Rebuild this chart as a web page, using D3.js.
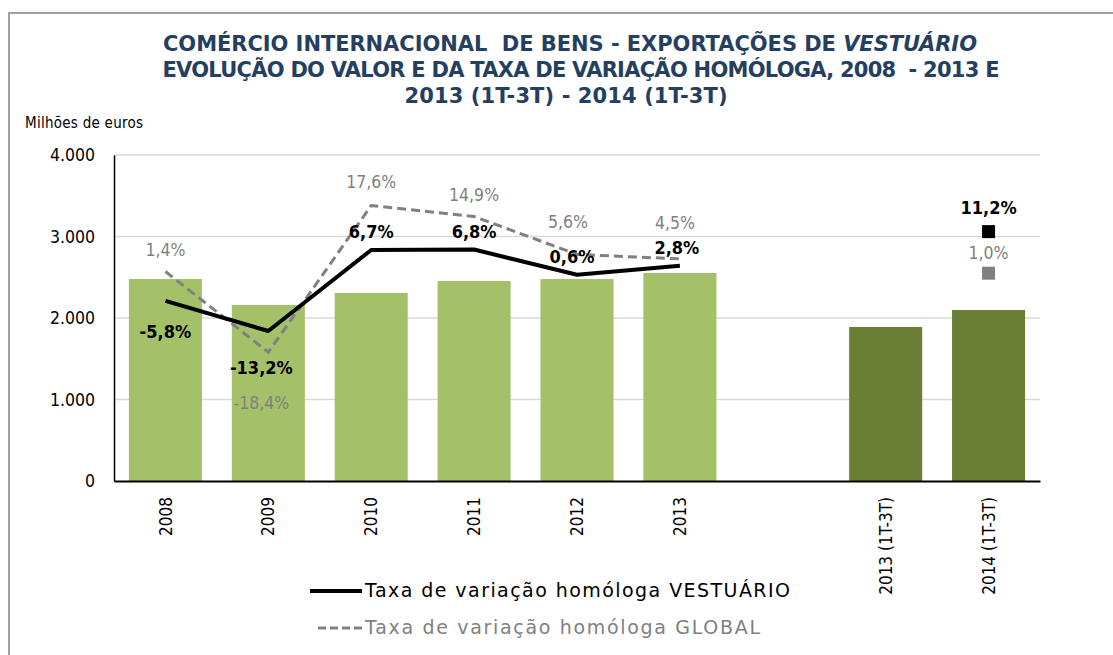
<!DOCTYPE html>
<html lang="pt">
<head>
<meta charset="utf-8">
<script src="https://cdn.jsdelivr.net/npm/d3@7"></script>
<title>Exportações de vestuário</title>
<style>
  body { margin: 0; background: #fff; }
  svg { display: block; font-family: "DejaVu Sans Condensed", "DejaVu Sans", sans-serif; }
  text { white-space: pre; }
</style>
</head>
<body>
<script>
// dados
var categories = ["2008", "2009", "2010", "2011", "2012", "2013", "", "2013 (1T-3T)", "2014 (1T-3T)"];
var values = [2478, 2160, 2307, 2454, 2478, 2552, null, 1890, 2098];
var years = ["2008", "2009", "2010", "2011", "2012", "2013"];
var rateVestuario = [-5.8, -13.2, 6.7, 6.8, 0.6, 2.8];
var rateGlobal = [1.4, -18.4, 17.6, 14.9, 5.6, 4.5];
var quarterCat = "2014 (1T-3T)";
var quarterVestuario = 11.2;
var quarterGlobal = 1.0;
var yTicks = [0, 1000, 2000, 3000, 4000];

var w = 1113, h = 655;
var margin = { top: 155, left: 114, right: 73, bottom: 174 };

var svg = d3.select("body").append("svg")
  .attr("width", w)
  .attr("height", h);

// frame
svg.append("path")
  .attr("d", "M9," + h + "V13H" + w)
  .attr("fill", "none")
  .attr("stroke", "#a0a0a0")
  .attr("stroke-width", 2);

// title
var title = svg.append("g")
  .attr("fill", "#243f60")
  .attr("font-weight", "bold")
  .attr("font-size", 21)
  .style("font-family", "'DejaVu Sans', sans-serif")
  .attr("text-anchor", "middle");
var t1 = title.append("text").attr("x", 570).attr("y", 51)
  .attr("textLength", 814).attr("lengthAdjust", "spacing");
t1.append("tspan").text("COMÉRCIO INTERNACIONAL  DE BENS - EXPORTAÇÕES DE ");
t1.append("tspan").attr("font-style", "italic").text("VESTUÁRIO");
title.append("text").attr("x", 581).attr("y", 77)
  .attr("textLength", 837).attr("lengthAdjust", "spacing")
  .text("EVOLUÇÃO DO VALOR E DA TAXA DE VARIAÇÃO HOMÓLOGA, 2008  - 2013 E");
title.append("text").attr("x", 566).attr("y", 103)
  .attr("textLength", 323).attr("lengthAdjust", "spacing")
  .text("2013 (1T-3T) - 2014 (1T-3T)");

svg.append("text")
  .attr("x", 25).attr("y", 128)
  .attr("font-size", 15)
  .attr("textLength", 118).attr("lengthAdjust", "spacing")
  .text("Milhões de euros");

// scales
var x = d3.scaleBand()
  .domain(categories)
  .range([margin.left, w - margin.right])
  .paddingInner(0.29)
  .paddingOuter(0.145);

var y = d3.scaleLinear()
  .domain([0, 4000])
  .range([h - margin.bottom, margin.top]);

// secondary (hidden) axis for the rates
var y2 = d3.scaleLinear()
  .domain([-50, 30])
  .range([h - margin.bottom, margin.top]);

// gridlines
svg.append("g")
  .selectAll("line")
  .data(yTicks.slice(1))
  .enter().append("line")
  .attr("x1", margin.left).attr("x2", w - margin.right)
  .attr("y1", function(d) { return y(d); })
  .attr("y2", function(d) { return y(d); })
  .attr("stroke", "#d9d9d9")
  .attr("stroke-width", 1.5);

// bars
svg.append("g")
  .selectAll("rect")
  .data(categories.map(function(c, i) { return { cat: c, v: values[i], i: i }; })
    .filter(function(d) { return d.v != null; }))
  .enter().append("rect")
  .attr("x", function(d) { return x(d.cat); })
  .attr("y", function(d) { return y(d.v); })
  .attr("width", x.bandwidth())
  .attr("height", function(d) { return y(0) - y(d.v); })
  .attr("fill", function(d) { return d.i > 6 ? "#6a7f35" : "#a4c16a"; });

// axes
var yAxis = d3.axisLeft(y).tickValues(yTicks).tickSize(0).tickPadding(19)
  .tickFormat(function(d) { return d3.format(",")(d).replace(/,/g, "."); });
var gy = svg.append("g")
  .attr("transform", "translate(" + margin.left + ",0)")
  .call(yAxis);
gy.select(".domain").attr("stroke", "#000").attr("stroke-width", 1.5);
gy.selectAll("text").attr("font-size", 17.5).attr("fill", "#000")
  .attr("font-family", "'DejaVu Sans Condensed', sans-serif");

var xAxis = d3.axisBottom(x).tickSize(0).tickSizeOuter(0);
var gx = svg.append("g")
  .attr("transform", "translate(0," + y(0) + ")")
  .call(xAxis);
gx.select(".domain").attr("stroke", "#000").attr("stroke-width", 2);
gx.selectAll("text")
  .attr("font-size", 17)
  .attr("fill", "#000")
  .attr("font-family", "'DejaVu Sans Condensed', sans-serif")
  .attr("text-anchor", "end")
  .attr("transform", "rotate(-90)")
  .attr("x", -16)
  .attr("y", 0)
  .attr("dy", "0.36em");

// lines
var line = d3.line()
  .x(function(d) { return x(d.cat) + x.bandwidth() / 2; })
  .y(function(d) { return y2(d.v); });

var globalPts = years.map(function(c, i) { return { cat: c, v: rateGlobal[i] }; });
var vestPts = years.map(function(c, i) { return { cat: c, v: rateVestuario[i] }; });

svg.append("path")
  .datum(globalPts)
  .attr("d", line)
  .attr("fill", "none")
  .attr("stroke", "#808080")
  .attr("stroke-width", 3)
  .attr("stroke-dasharray", "9,5");

svg.append("path")
  .datum(vestPts)
  .attr("d", line)
  .attr("fill", "none")
  .attr("stroke", "#000")
  .attr("stroke-width", 4)
  .attr("stroke-linejoin", "round");

// markers for 2014 (1T-3T)
var qx = x(quarterCat) + x.bandwidth() / 2;
svg.append("rect")
  .attr("x", qx - 6.5).attr("y", y2(quarterVestuario) - 6.5)
  .attr("width", 13).attr("height", 13)
  .attr("fill", "#000");
svg.append("rect")
  .attr("x", qx - 6.5).attr("y", y2(quarterGlobal) - 6.5)
  .attr("width", 13).attr("height", 13)
  .attr("fill", "#808080");

// data labels
var pct = function(v) { return d3.format(".1f")(v).replace(".", ",").replace("\u2212", "-") + "%"; };
var vestDy = [37, 43, -12, -12, -12, -12];
var vestDx = [0, -7, 0, 0, -5, -3];
var globDy = [-16, 57, -18, -16, -26, -30];
var globDx = [0, -7, 0, 0, -9, -5];

svg.append("g")
  .selectAll("text")
  .data(globalPts)
  .enter().append("text")
  .attr("x", function(d, i) { return x(d.cat) + x.bandwidth() / 2 + globDx[i]; })
  .attr("y", function(d, i) { return y2(d.v) + globDy[i]; })
  .attr("text-anchor", "middle")
  .attr("font-size", 17.5)
  .attr("fill", "#7f7f7f")
  .text(function(d) { return pct(d.v); });

svg.append("g")
  .selectAll("text")
  .data(vestPts)
  .enter().append("text")
  .attr("x", function(d, i) { return x(d.cat) + x.bandwidth() / 2 + vestDx[i]; })
  .attr("y", function(d, i) { return y2(d.v) + vestDy[i]; })
  .attr("text-anchor", "middle")
  .attr("font-size", 18)
  .attr("font-weight", "bold")
  .attr("fill", "#000")
  .text(function(d) { return pct(d.v); });

svg.append("text")
  .attr("x", qx).attr("y", y2(quarterVestuario) - 18)
  .attr("text-anchor", "middle")
  .attr("font-size", 18)
  .attr("font-weight", "bold")
  .text(pct(quarterVestuario));
svg.append("text")
  .attr("x", qx).attr("y", y2(quarterGlobal) - 14)
  .attr("text-anchor", "middle")
  .attr("font-size", 17.5)
  .attr("fill", "#7f7f7f")
  .text(pct(quarterGlobal));

// legend
var legend = svg.append("g").attr("font-size", 19)
  .style("font-family", "'DejaVu Sans', sans-serif");
legend.append("line")
  .attr("x1", 310).attr("x2", 362).attr("y1", 591).attr("y2", 591)
  .attr("stroke", "#000").attr("stroke-width", 4);
legend.append("text")
  .attr("x", 365).attr("y", 597)
  .attr("fill", "#000")
  .attr("textLength", 425).attr("lengthAdjust", "spacing")
  .text("Taxa de variação homóloga VESTUÁRIO");
legend.append("line")
  .attr("x1", 318).attr("x2", 362).attr("y1", 628).attr("y2", 628)
  .attr("stroke", "#808080").attr("stroke-width", 3)
  .attr("stroke-dasharray", "8,4");
legend.append("text")
  .attr("x", 365).attr("y", 634)
  .attr("fill", "#808080")
  .attr("textLength", 395).attr("lengthAdjust", "spacing")
  .text("Taxa de variação homóloga GLOBAL");
</script>
</body>
</html>
